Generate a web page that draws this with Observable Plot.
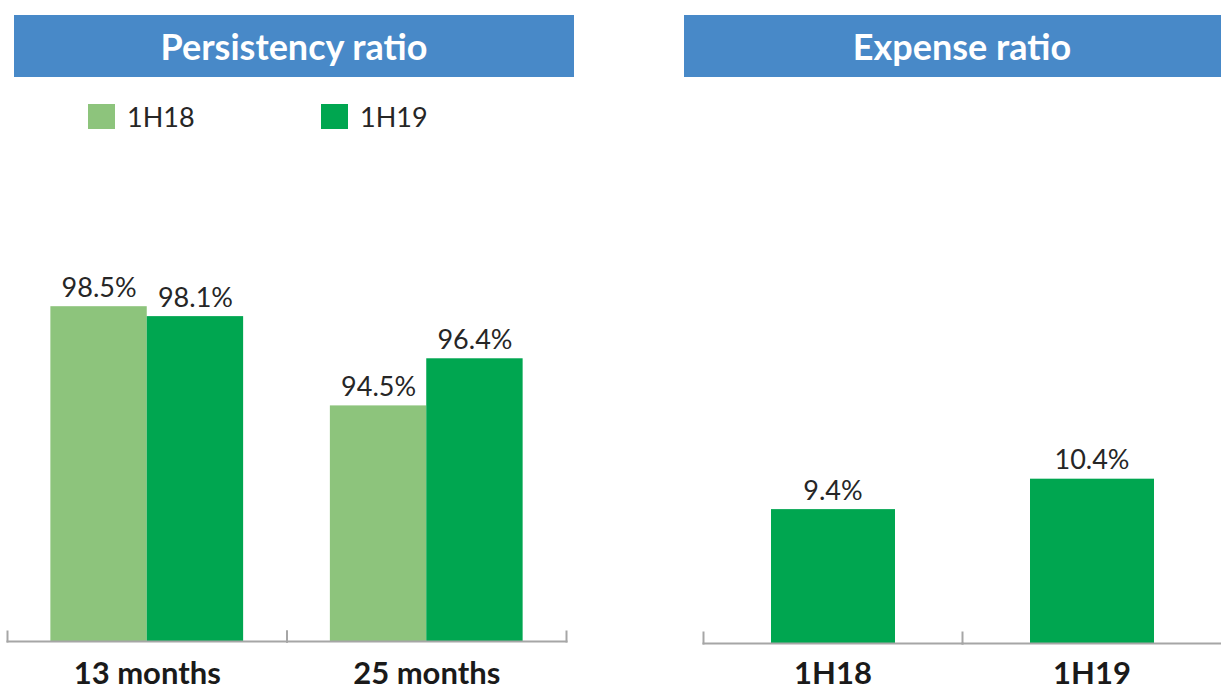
<!DOCTYPE html>
<html>
<head>
<meta charset="utf-8">
<script src="https://cdn.jsdelivr.net/npm/d3@7"></script>
<script src="https://cdn.jsdelivr.net/npm/@observablehq/plot@0.6"></script>
<style>
  body { margin: 0; background: #fff; }
  #page { position: relative; width: 1221px; height: 691px; overflow: hidden; font-family: Lato, sans-serif; }
  .header { position: absolute; top: 15px; height: 62px; background: #4889C8; color: #fff;
            font-weight: 700; font-size: 36px; display: flex; align-items: center; justify-content: center; }
  .legend-item { position: absolute; top: 104px; height: 25px; display: flex; align-items: center;
                 font-size: 27px; color: #262626; white-space: nowrap; }
  .swatch { width: 27px; height: 25px; margin-right: 12px; }
  .chart { position: absolute; top: 150px; }
</style>
</head>
<body>
<div id="page"></div>
<script>
// Persistency ratio by policy age, two half-year periods
const categories = ["13 months", "25 months"];
const periods = ["1H18", "1H19"];
const persistency1H18 = [98.5, 94.5];
const persistency1H19 = [98.1, 96.4];

// Expense ratio per period
const expenseRatio = [9.4, 10.4];

// Value axes start above zero
const persistencyDomain = [85, 100];
const expenseDomain = [5, 12];

const seriesColors = ["#8DC47C", "#00A650"];
const axisGray = "#A6A6A6";
const labelColor = "#262626";

const page = document.getElementById("page");

function header(text, left, width) {
  const h = document.createElement("div");
  h.className = "header";
  h.style.left = left + "px";
  h.style.width = width + "px";
  h.textContent = text;
  page.appendChild(h);
}
header("Persistency ratio", 14, 560);
// this banner runs past the right edge of the page
header("Expense ratio", 684, 556);

// Legend for the persistency chart
const legendLefts = [88, 321];
periods.forEach((p, i) => {
  const item = document.createElement("div");
  item.className = "legend-item";
  item.style.left = legendLefts[i] + "px";
  const sw = document.createElement("div");
  sw.className = "swatch";
  sw.style.background = seriesColors[i];
  const label = document.createElement("span");
  label.textContent = p;
  item.append(sw, label);
  page.appendChild(item);
});

const pct = d => d.value.toFixed(1) + "%";

const categoryAxis = (tickPadding) => Plot.axisFx({
  anchor: "bottom", tickSize: 0, tickPadding, fontSize: 31,
  fontWeight: "bold", color: "#1a1a1a", label: null
});

// Left: grouped bars, one facet per policy age
const persistencySeries = [persistency1H18, persistency1H19];
const persistencyRows = categories.flatMap((c, i) =>
  periods.map((p, j) => ({category: c, period: p, value: persistencySeries[j][i]}))
);

const leftChart = Plot.plot({
  width: 580,
  height: 541,
  marginLeft: 7,
  marginRight: 14,
  marginTop: 119,
  marginBottom: 50,
  style: {fontFamily: "Lato, sans-serif", background: "transparent", overflow: "visible"},
  fx: {domain: categories, padding: 0, round: false, axis: null},
  x: {domain: periods, paddingInner: 0, paddingOuter: 0.45, round: false, axis: null},
  y: {domain: persistencyDomain, clamp: true, axis: null},
  color: {domain: periods, range: seriesColors},
  marks: [
    Plot.barY(persistencyRows, {fx: "category", x: "period", y: "value", fill: "period"}),
    Plot.frame({anchor: "bottom", stroke: axisGray, strokeWidth: 2}),
    Plot.frame({anchor: "left", stroke: axisGray, strokeWidth: 2, insetTop: 362}),
    Plot.frame({anchor: "right", stroke: axisGray, strokeWidth: 2, insetTop: 362}),
    Plot.text(persistencyRows, {
      fx: "category", x: "period", y: "value", text: pct,
      lineAnchor: "bottom", dy: -10, fontSize: 27, fill: labelColor
    }),
    categoryAxis(20)
  ]
});
leftChart.classList.add("chart");
leftChart.style.left = "0px";
page.appendChild(leftChart);

// Right: one bar per period
const expenseRows = periods.map((p, i) => ({period: p, value: expenseRatio[i]}));

const rightChart = Plot.plot({
  width: 537,
  height: 541,
  marginLeft: 19,
  marginRight: 0,
  marginTop: 280,
  marginBottom: 48,
  style: {fontFamily: "Lato, sans-serif", background: "transparent", overflow: "visible"},
  fx: {domain: periods, padding: 0, round: false, axis: null},
  y: {domain: expenseDomain, clamp: true, axis: null},
  marks: [
    Plot.barY(expenseRows, {fx: "period", y: "value", fill: seriesColors[1], insetLeft: 68, insetRight: 67}),
    Plot.frame({anchor: "bottom", stroke: axisGray, strokeWidth: 2}),
    Plot.frame({anchor: "left", stroke: axisGray, strokeWidth: 2, insetTop: 202}),
    Plot.text(expenseRows, {
      fx: "period", y: "value", text: pct,
      lineAnchor: "bottom", dy: -10, fontSize: 27, fill: labelColor
    }),
    categoryAxis(18)
  ]
});
rightChart.classList.add("chart");
rightChart.style.left = "684px";
page.appendChild(rightChart);
</script>
</body>
</html>
